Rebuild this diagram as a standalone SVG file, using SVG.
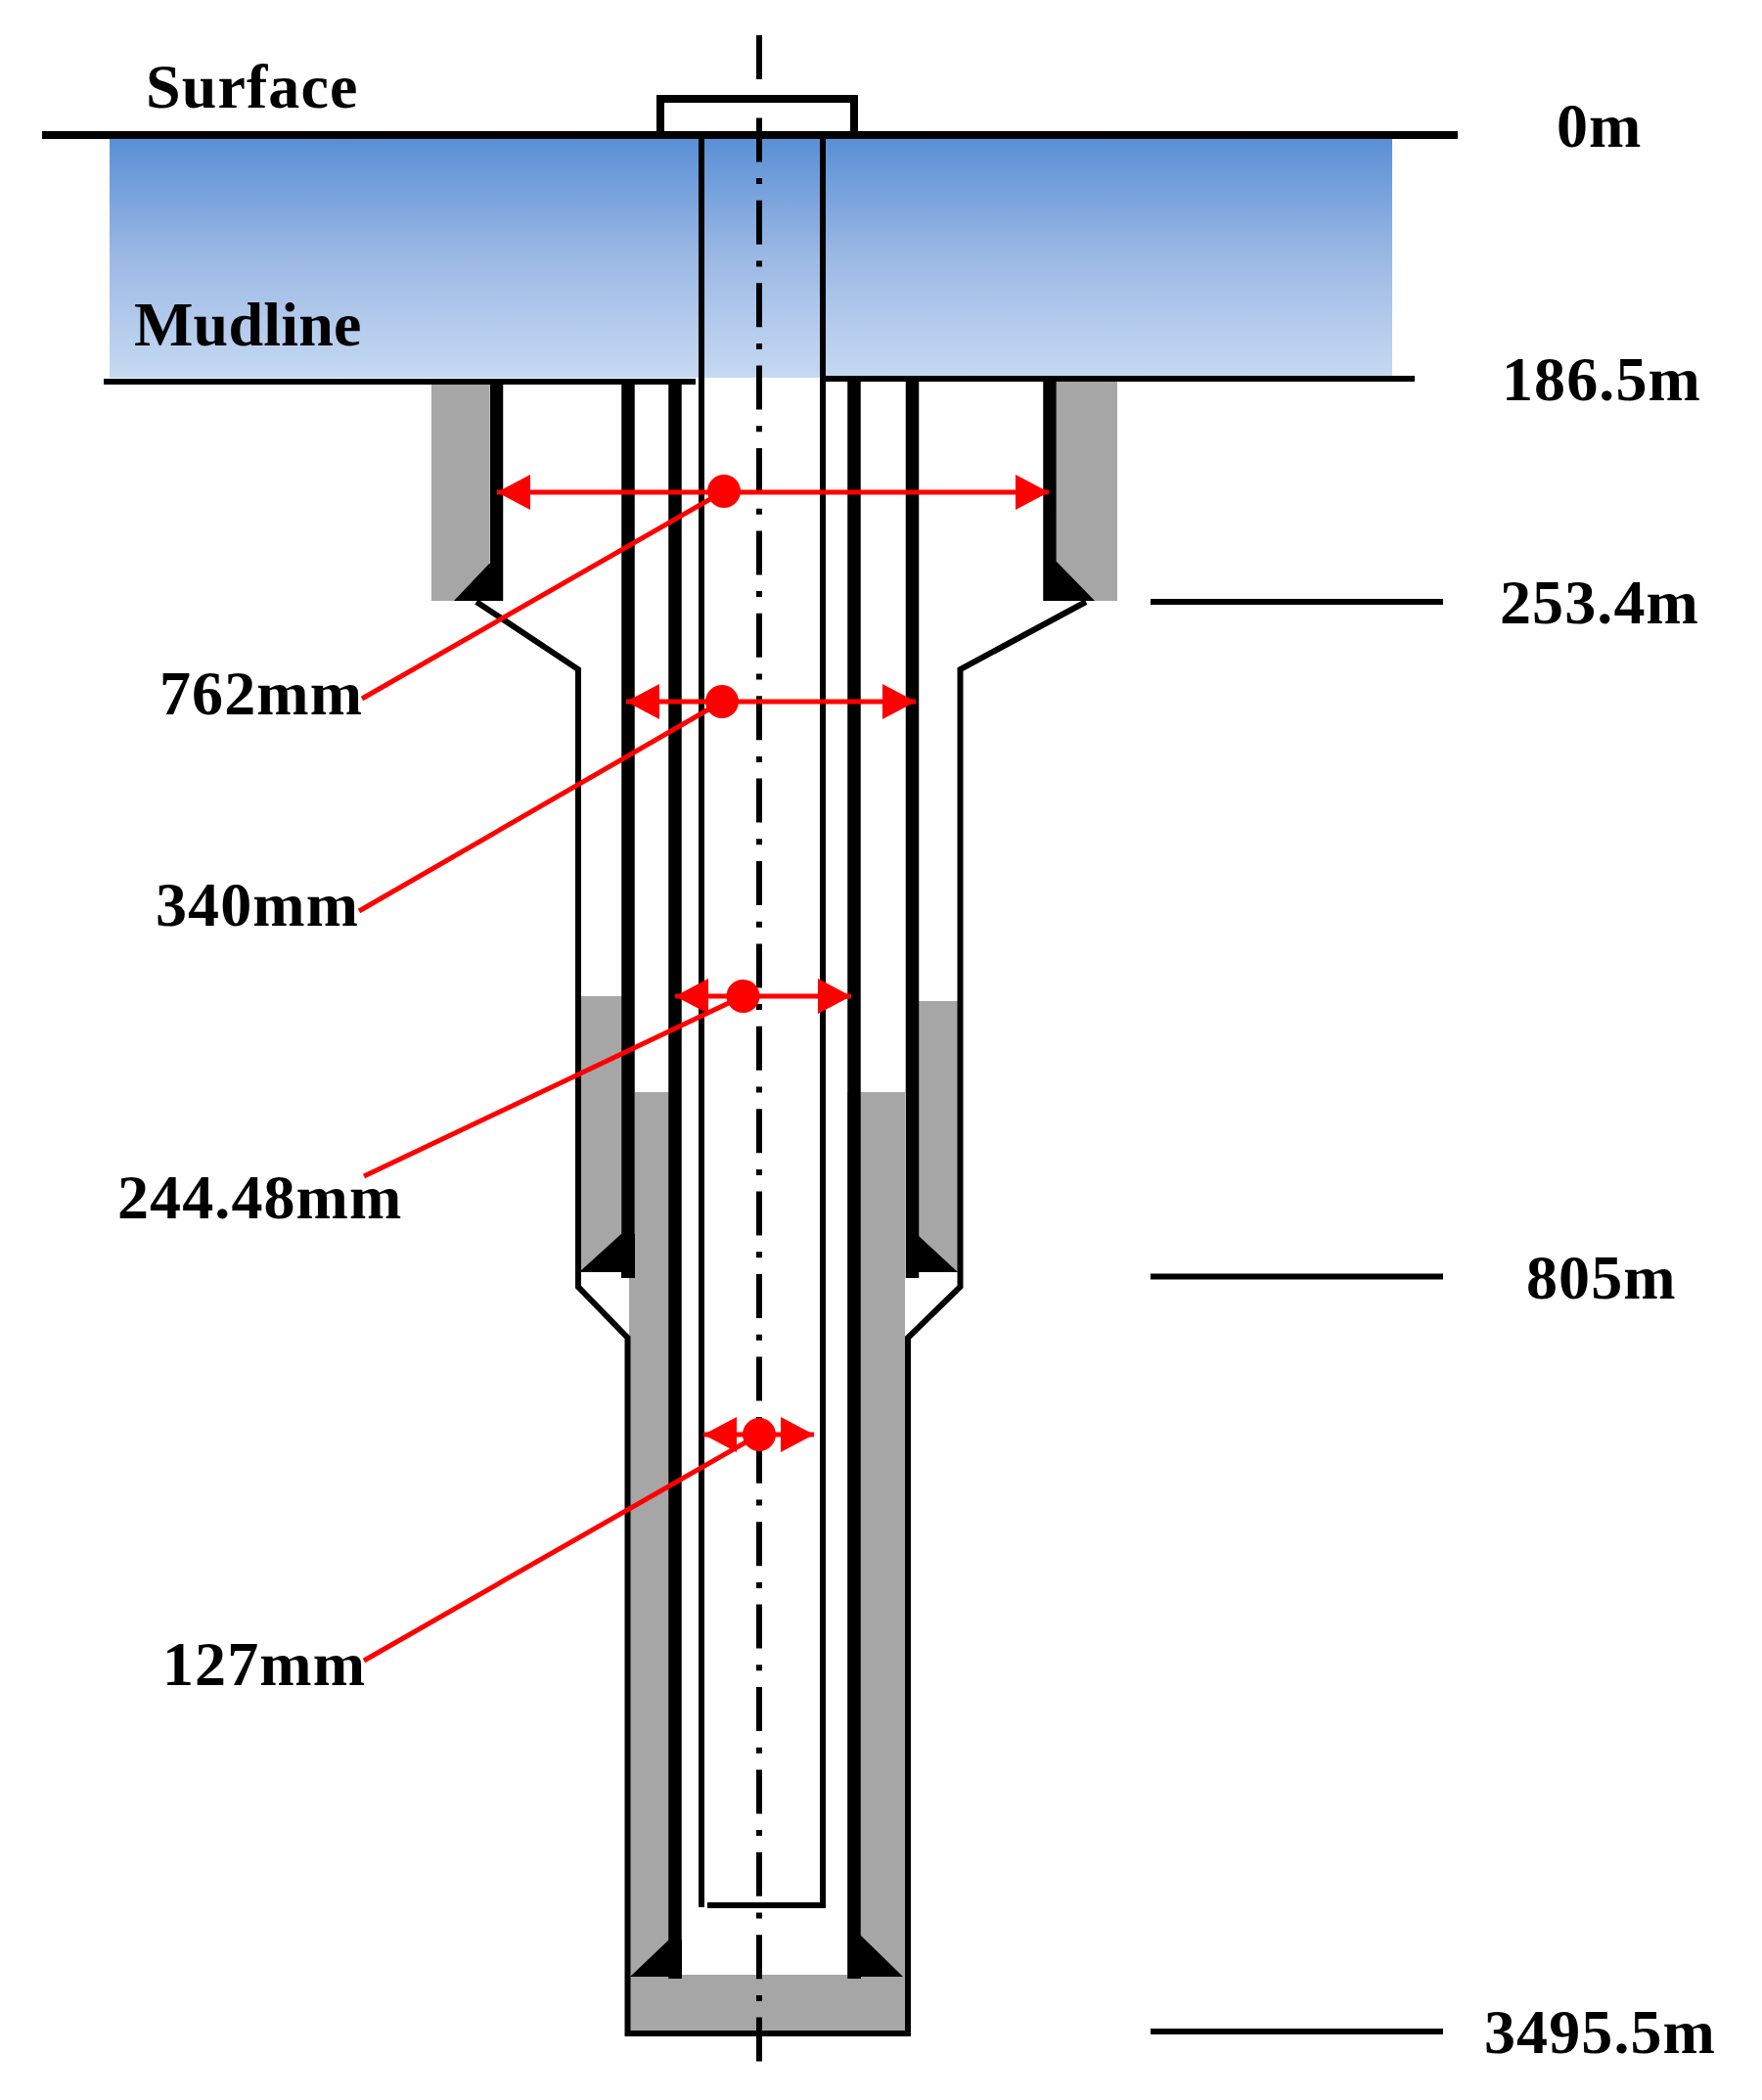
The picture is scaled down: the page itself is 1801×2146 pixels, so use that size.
<svg xmlns="http://www.w3.org/2000/svg" width="1801" height="2146" viewBox="0 0 1801 2146">
<style>
.t{font-family:"Liberation Serif","Times New Roman",serif;font-weight:bold;font-size:64px;fill:#000;letter-spacing:1.1px}
.g{fill:#a6a6a6}
.k{fill:#000}
.l{fill:none;stroke:#000;stroke-linejoin:miter}
.w5{stroke-width:6}
.w8{stroke-width:8}
.c{stroke-width:13.5}
.r{fill:none;stroke:#f00;stroke-width:5}
.d{fill:#f00}
</style>
<defs>
<linearGradient id="water" x1="0" y1="0" x2="0" y2="1">
<stop offset="0" stop-color="#5a8fd5"/>
<stop offset="0.5" stop-color="#9cb9e4"/>
<stop offset="1" stop-color="#c6d9f2"/>
</linearGradient>
<marker id="arr" markerUnits="userSpaceOnUse" markerWidth="34" markerHeight="36" refX="34" refY="18" orient="auto-start-reverse">
<path d="M0 0L34 18L0 36Z" fill="#f00"/>
</marker>
</defs>
<rect id="water-column" x="112" y="142" width="1311" height="244" fill="url(#water)"/>
<g id="cement">
<rect class="g" x="441" y="388" width="59" height="226"/>
<rect class="g" x="1080" y="388" width="62" height="226"/>
<rect class="g" x="592" y="1018" width="44" height="282"/>
<rect class="g" x="939" y="1023" width="40" height="277"/>
<path class="g" d="M649 1116H684V2018H866V1116H925V2078H643V1306H649Z"/>
</g>
<g id="wedges">
<path class="k" d="M500 576L464 614H514V576Z"/>
<path class="k" d="M1080 574L1119 614H1067V574Z"/>
<path class="k" d="M635 1261L592 1300H635V1306H649V1261Z"/>
<path class="k" d="M939 1263L979 1300H939V1306H926V1263Z"/>
<path class="k" d="M684 1982L644 2020H684V2022H697V1982Z"/>
<path class="k" d="M880 1978L923 2020H880V2022H867V1978Z"/>
</g>
<g id="casings">
<line class="l c" x1="507.5" y1="388" x2="507.5" y2="614"/>
<line class="l c" x1="1073" y1="388" x2="1073" y2="614"/>
<line class="l c" x1="642" y1="388" x2="642" y2="1306"/>
<line class="l c" x1="932.5" y1="388" x2="932.5" y2="1306"/>
<line class="l c" x1="690" y1="388" x2="690" y2="2022"/>
<line class="l c" x1="873" y1="388" x2="873" y2="2022"/>
</g>
<g id="hole">
<path class="l w5" d="M487 615L591 684V1315L641.500 1367V2078H928V1367L981.500 1315V684L1110 615"/>
</g>
<g id="tubing">
<path class="l w5" d="M717 138V1949"/>
<path class="l w5" d="M723 1947H841V138"/>
</g>
<g id="surface-lines">
<line class="l w8" x1="43" y1="138" x2="1490" y2="138"/>
<path class="l w8" d="M675 138V101H873V138"/>
<line class="l w5" x1="106" y1="390" x2="711" y2="390"/>
<line class="l w5" x1="841" y1="387" x2="1446" y2="387"/>
<line class="l w5" x1="1176" y1="615" x2="1475" y2="615"/>
<line class="l w5" x1="1176" y1="1304.500" x2="1475" y2="1304.500"/>
<line class="l w5" x1="1176" y1="2076" x2="1475" y2="2076"/>
</g>
<line id="centerline" x1="776" y1="36" x2="776" y2="2107" stroke="#000" stroke-width="6" stroke-dasharray="45 16.700 6 16.700"/>
<g id="dimensions">
<g id="dim-762">
<line class="r" x1="508" y1="503" x2="1072" y2="503" marker-start="url(#arr)" marker-end="url(#arr)"/>
<circle class="d" cx="740" cy="502" r="17"/>
<line class="r" x1="740" y1="502" x2="370" y2="714"/>
</g>
<g id="dim-340">
<line class="r" x1="640" y1="717" x2="936" y2="717" marker-start="url(#arr)" marker-end="url(#arr)"/>
<circle class="d" cx="738" cy="717" r="17"/>
<line class="r" x1="738" y1="717" x2="367" y2="931"/>
</g>
<g id="dim-244">
<line class="r" x1="690" y1="1018" x2="870" y2="1018" marker-start="url(#arr)" marker-end="url(#arr)"/>
<circle class="d" cx="759.500" cy="1018" r="17"/>
<line class="r" x1="759.500" y1="1018" x2="372" y2="1202"/>
</g>
<g id="dim-127">
<line class="r" x1="719" y1="1466" x2="832" y2="1466" marker-start="url(#arr)" marker-end="url(#arr)"/>
<circle class="d" cx="776" cy="1466" r="17"/>
<line class="r" x1="776" y1="1466" x2="372" y2="1697"/>
</g>
</g>
<g id="labels">
<text class="t" x="149" y="110">Surface</text>
<text class="t" x="137" y="353" style="letter-spacing:.2px">Mudline</text>
<text class="t" x="1591" y="150">0m</text>
<text class="t" x="1535" y="409">186.5m</text>
<text class="t" x="1533" y="637">253.4m</text>
<text class="t" x="1560" y="1327">805m</text>
<text class="t" x="1517" y="2098">3495.5m</text>
<text class="t" x="163" y="730">762mm</text>
<text class="t" x="159" y="946">340mm</text>
<text class="t" x="120" y="1245">244.48mm</text>
<text class="t" x="166" y="1722">127mm</text>
</g>
</svg>
